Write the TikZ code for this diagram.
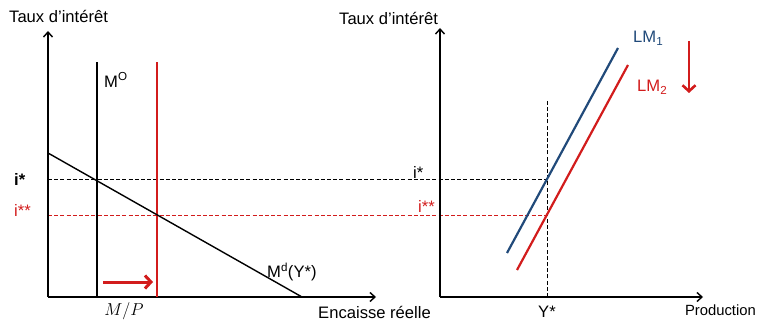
\documentclass[tikz,border=0pt]{standalone}
\usepackage{fontspec}
\setmainfont{Liberation Sans}
\usetikzlibrary{arrows.meta,positioning}
\definecolor{lmblue}{RGB}{33,74,122}
\definecolor{shiftred}{RGB}{210,28,28}

\begin{document}
\begin{tikzpicture}[x=1pt, y=1pt, every node/.style={font=\fontsize{16.6}{19}\selectfont, inner sep=0pt},
 axis/.style={-{Straight Barb[length=5pt,width=9pt]}, line width=1.4pt},
 curve/.style={line width=1.4pt},
 guide/.style={line width=1pt, dash pattern=on 4pt off 2.2pt},
 shiftarrow/.style={-{Straight Barb[length=6pt,width=13pt]}, line width=3pt, draw=shiftred}]
\useasboundingbox (0,0) rectangle (758,322);
% left panel: money market
\coordinate (o1) at (48,25);
\coordinate (y1) at (48,291);
\coordinate (x1) at (376,25);
\coordinate (mo-b) at (97,25);
\coordinate (mo-t) at (97,260);
\coordinate (mr-b) at (157,25);
\coordinate (mr-t) at (157,260);
\coordinate (md-a) at (48,169);
\coordinate (md-b) at (302,25);
\coordinate (istar-l) at (48,143);
\coordinate (istar2-l) at (48,107);
% right panel: LM
\coordinate (o2) at (440,25);
\coordinate (y2) at (440,294);
\coordinate (x2) at (703,25);
\coordinate (ystar-b) at (547,25);
\coordinate (ystar-t) at (547,222);
\coordinate (istar-r) at (547,143);
\coordinate (istar2-r) at (547,107);
\coordinate (lm1-a) at (507,69);
\coordinate (lm1-b) at (618,274);
\coordinate (lm2-a) at (517,52);
\coordinate (lm2-b) at (628,257);
\coordinate (up-a) at (103,40);
\coordinate (up-b) at (153,40);
\coordinate (dn-a) at (689,281);
\coordinate (dn-b) at (689,229);

\draw[guide] (istar-l) -- (istar-r);
\draw[guide, shiftred] (istar2-l) -- (istar2-r);
\draw[guide] (ystar-b) -- (ystar-t);
\draw[axis] (o1) -- (y1);
\draw[axis] (o1) -- (x1);
\draw[axis] (o2) -- (y2);
\draw[axis] (o2) -- (x2);
\draw[curve] (mo-b) -- (mo-t);
\draw[curve, shiftred] (mr-b) -- (mr-t);
\draw[curve] (md-a) -- (md-b);
\draw[line width=2.2pt, lmblue] (lm1-a) -- (lm1-b);
\draw[line width=2.2pt, shiftred] (lm2-a) -- (lm2-b);
\draw[shiftarrow] (up-a) -- (up-b);
\draw[shiftarrow, line width=2.6pt] (dn-a) -- (dn-b);

\node[anchor=west] (taux1) at (9,306) {Taux d’intérêt};
\node[anchor=west] (taux2) at (339,304) {Taux d’intérêt};
\node[anchor=west] (istar1) at (14,143) {\textbf{i*}};
\node[anchor=west, text=shiftred] (istarb1) at (14,112) {i**};
\node[anchor=south west] (istar2) at (413,143) {i*};
\node[anchor=south west, text=shiftred] (istarb2) at (418,109) {i**};
\node[anchor=west] (mo) at (104,242) {M\textsuperscript{O}};
\node[anchor=west] (md) at (267,50) {M\textsuperscript{d}(Y*)};
\node (mp) at (124,11) {\fontsize{18}{20}\selectfont$M/P$};
\node[anchor=east] (enc) at (431,10) {Encaisse réelle};
\node (ystar) at (547,10) {Y*};
\node[anchor=east, font=\fontsize{14.8}{17}\selectfont] (prod) at (756,12) {Production};
\node[anchor=west, text=lmblue] (lm1) at (633,284) {LM\textsubscript{1}};
\node[anchor=west, text=shiftred] (lm2) at (637,235) {LM\textsubscript{2}};
\end{tikzpicture}
\end{document}
